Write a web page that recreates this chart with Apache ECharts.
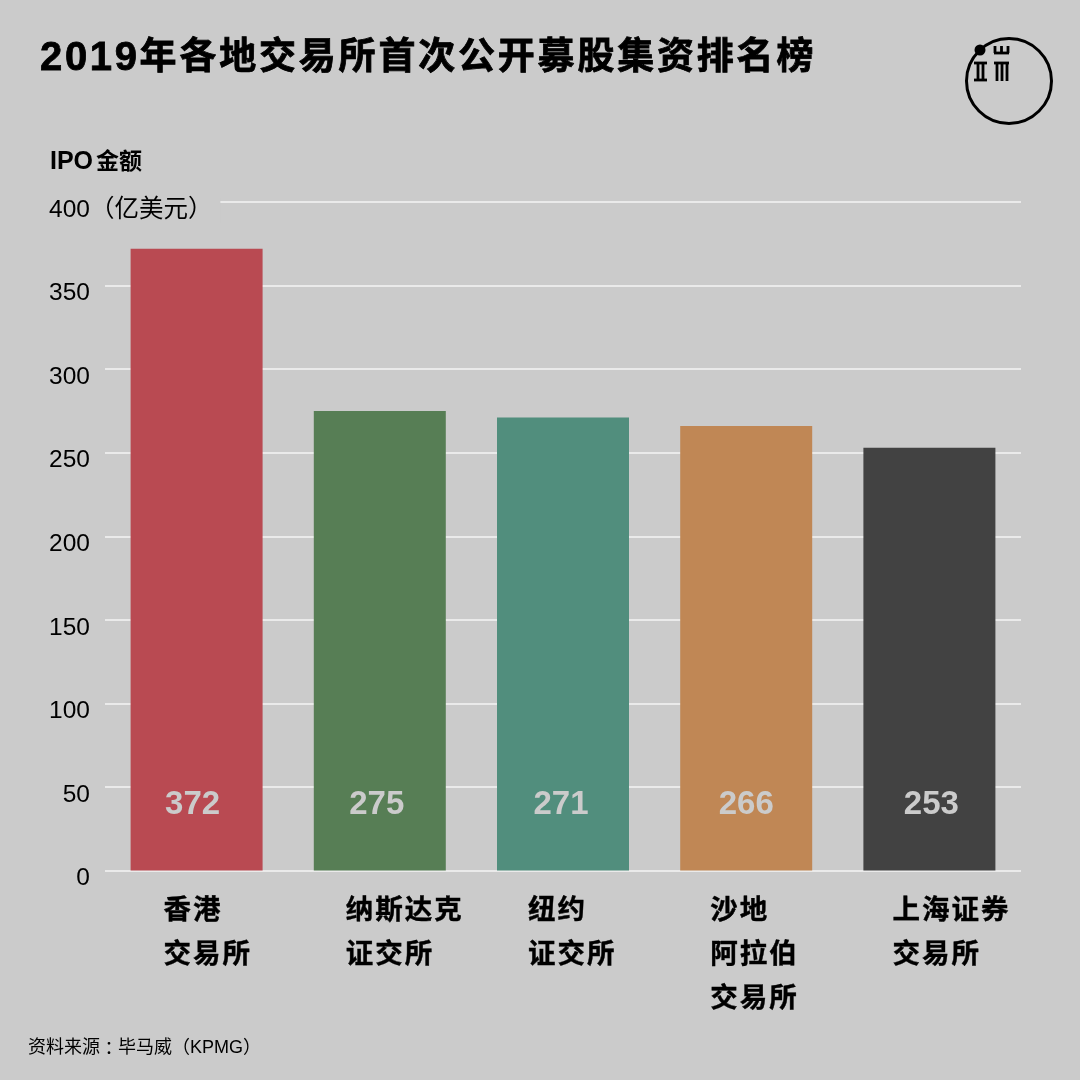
<!DOCTYPE html>
<html>
<head>
<meta charset="utf-8">
<style>
html, body { margin: 0; padding: 0; background: #cbcbcb; }
#chart { width: 1080px; height: 1080px; }
</style>
<script src="https://cdn.jsdelivr.net/npm/echarts@6/dist/echarts.min.js"></script>
</head>
<body>
<div id="chart"></div>
<script>
var categories = ['香港\n交易所', '纳斯达克\n证交所', '纽约\n证交所', '沙地\n阿拉伯\n交易所', '上海证券\n交易所'];
var values = [372, 275, 271, 266, 253];
var barColors = ['#b94a52', '#577e55', '#518e7d', '#c08755', '#424242'];
var labelNudge = [-4, -3, -2, 0, 2];
var categoryNudge = [-33, -34, -35, -36, -37];
var fontFamily = '"Liberation Sans", "Noto Sans CJK SC", sans-serif';

var myChart = echarts.init(document.getElementById('chart'));

// one rich token per character, the token width gives the letter spacing
function spaced(text, tag) {
  return text.split('').map(function (c) {
    return c === '\n' ? c : '{' + tag + '|' + c + '}';
  }).join('');
}

// logo: circle, dot and the small glyph strokes
function logoLine(x1, y1, x2, y2) {
  return {
    type: 'line',
    shape: { x1: x1, y1: y1, x2: x2, y2: y2 },
    style: { stroke: '#000', lineWidth: 2.8 },
    z: 10
  };
}
var logo = [
  { type: 'circle', shape: { cx: 1009, cy: 81, r: 42.5 }, style: { fill: 'transparent', stroke: '#000', lineWidth: 3 }, z: 10 },
  { type: 'circle', shape: { cx: 980, cy: 50, r: 5.5 }, style: { fill: '#000' }, z: 10 },
  logoLine(994, 53, 1009, 53), logoLine(995, 46, 995, 53), logoLine(1001.5, 46, 1001.5, 53), logoLine(1008, 46, 1008, 53),
  logoLine(974, 63, 987, 63), logoLine(974, 80, 987, 80), logoLine(978, 63, 978, 80), logoLine(983, 63, 983, 80),
  logoLine(994, 63, 1009, 63), logoLine(997, 63, 997, 81), logoLine(1002, 63, 1002, 81), logoLine(1007, 63, 1007, 81)
];

var option = {
  backgroundColor: '#cbcbcb',
  animation: false,
  title: {
    text: spaced('2019', 'a') + spaced('年各地交易所首次公开募股集资排名榜', 'b'),
    left: 40,
    top: 39,
    padding: 0,
    textStyle: {
      rich: {
        a: { fontFamily: fontFamily, fontSize: 40, fontWeight: 'bold', color: '#000', width: 24.9, lineHeight: 40, textBorderColor: '#000', textBorderWidth: 0.8 },
        b: { fontFamily: fontFamily, fontSize: 37, fontWeight: 'bold', color: '#000', width: 39.8, lineHeight: 40, textBorderColor: '#000', textBorderWidth: 0.8 }
      }
    }
  },
  grid: { left: 105, right: 59, top: 202, bottom: 209.5 },
  xAxis: {
    type: 'category',
    data: categories.map(function (c, i) {
      return { value: c, textStyle: { align: 'left', padding: [0, 0, 0, categoryNudge[i]] } };
    }),
    axisLine: { show: false },
    axisTick: { show: false },
    axisLabel: {
      interval: 0,
      margin: 19,
      align: 'left',
      formatter: function (v) { return spaced(v, 'c'); },
      rich: {
        c: { fontFamily: fontFamily, fontSize: 27.5, fontWeight: 'bold', color: '#000', width: 29.5, lineHeight: 44, textBorderColor: '#000', textBorderWidth: 0.4 }
      }
    }
  },
  yAxis: {
    type: 'value',
    min: 0,
    max: 400,
    interval: 50,
    axisLine: { show: false },
    axisTick: { show: false },
    splitLine: { lineStyle: { color: '#f5f5f5', width: 1.5 } },
    axisLabel: {
      margin: 15,
      verticalAlign: 'top',
      lineHeight: 16,
      fontFamily: fontFamily,
      fontSize: 24.5,
      color: '#000',
      formatter: function (v) { return v === 400 ? '' : String(v); }
    }
  },
  series: [{
    type: 'bar',
    barWidth: 132,
    data: values.map(function (v, i) {
      return {
        value: v,
        itemStyle: { color: barColors[i] },
        label: { offset: [labelNudge[i], 0] }
      };
    }),
    label: {
      show: true,
      position: 'insideBottom',
      distance: 49,
      fontFamily: fontFamily,
      fontSize: 33,
      fontWeight: 'bold',
      color: '#cbcbcb'
    }
  }],
  graphic: [
    {
      type: 'text', left: 50, top: 150, z: 10,
      style: {
        text: '{a|IPO}' + spaced('金额', 'b'),
        rich: {
          a: { fontFamily: fontFamily, fontSize: 25, fontWeight: 'bold', fill: '#000', lineHeight: 26, width: 46 },
          b: { fontFamily: fontFamily, fontSize: 23, fontWeight: 'bold', fill: '#000', lineHeight: 26, width: 23 }
        }
      }
    },
    {
      type: 'text', left: 49, top: 198, z: 10,
      style: {
        text: '400（亿美元）',
        fontFamily: fontFamily,
        fontSize: 24.5,
        fill: '#000',
        backgroundColor: '#cbcbcb',
        padding: [0, 8, 0, 0]
      }
    },
    {
      type: 'text', left: 28, top: 1039, z: 10,
      style: {
        text: '资料来源{c|：}毕马威（KPMG）',
        fontFamily: fontFamily,
        fontSize: 18,
        fill: '#000',
        rich: { c: { fontFamily: '"Noto Sans CJK TC"', fontSize: 18, fill: '#000' } }
      }
    }
  ].concat(logo)
};
myChart.setOption(option);
</script>
</body>
</html>
